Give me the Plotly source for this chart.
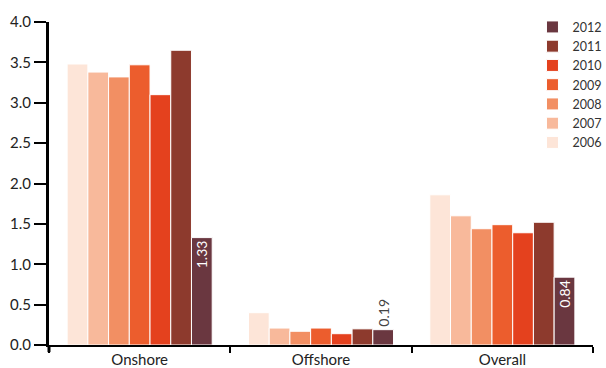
import plotly.graph_objects as go

categories = ["Onshore", "Offshore", "Overall"]
years = ["2006", "2007", "2008", "2009", "2010", "2011", "2012"]

v2006 = [3.48, 0.40, 1.86]
v2007 = [3.38, 0.21, 1.60]
v2008 = [3.32, 0.17, 1.44]
v2009 = [3.47, 0.21, 1.49]
v2010 = [3.10, 0.14, 1.39]
v2011 = [3.65, 0.20, 1.52]
v2012 = [1.33, 0.19, 0.84]

series = [v2006, v2007, v2008, v2009, v2010, v2011, v2012]
colors = ["#FDE5D8", "#F8B99B", "#F28F63", "#EC5D2D", "#E4411E", "#8D3A2D", "#6A3740"]

font_family = "Lato, 'DejaVu Sans', sans-serif"

fig = go.Figure()
for year, vals, col in zip(years, series, colors):
    kw = {}
    if year == "2012":
        kw = dict(
            text=[f"{v:.2f}" for v in vals],
            textposition=["inside", "outside", "inside"],
            textangle=-90,
            insidetextanchor="end",
            constraintext="none",
            insidetextfont=dict(color="white", size=14, family=font_family),
            outsidetextfont=dict(color="#444444", size=14, family=font_family),
            cliponaxis=False,
        )
    fig.add_trace(go.Bar(
        x=categories, y=vals, name=year,
        marker=dict(color=col, line=dict(color="white", width=1)),
        **kw,
    ))

# short axis-line overhangs where the two axes cross
fig.add_shape(type="line", xref="x domain", yref="y", x0=-0.017, x1=0, y0=0, y1=0,
              line=dict(color="black", width=2))
fig.add_shape(type="line", xref="x domain", yref="y domain", x0=0, x1=0, y0=-0.022, y1=0,
              line=dict(color="black", width=3))

fig.update_layout(
    width=606, height=368,
    margin=dict(l=49, r=0, t=22, b=23, autoexpand=False),
    plot_bgcolor="white", paper_bgcolor="white",
    barmode="group", bargap=0.2, bargroupgap=0.0,
    font=dict(family=font_family, size=15, color="#222222"),
    showlegend=True,
    legend=dict(
        traceorder="reversed",
        x=0.868, y=1.03, xanchor="left", yanchor="top",
        font=dict(size=12.5, color="#333333"),
        itemwidth=30, tracegroupgap=0,
        bgcolor="rgba(0,0,0,0)",
    ),
)

fig.update_xaxes(
    domain=[0, 544 / 557],
    showline=True, linecolor="black", linewidth=2,
    ticks="outside", tickson="boundaries", ticklen=6, tickwidth=2, tickcolor="black",
    range=[-0.5, 2.5], showgrid=False, automargin=False,
)
fig.update_yaxes(
    range=[0, 4], dtick=0.5, tickformat=".1f",
    showline=True, linecolor="black", linewidth=3,
    ticks="outside", ticklen=12, tickwidth=2, tickcolor="black",
    showgrid=False, zeroline=False, automargin=False,
)

fig.write_html("out.html")
